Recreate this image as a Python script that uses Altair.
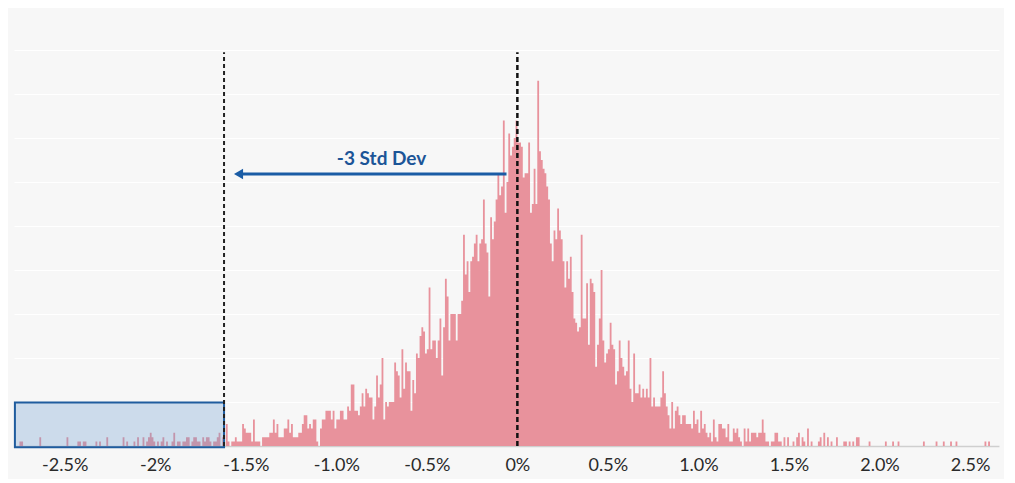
import numpy as np
import pandas as pd
import altair as alt

# Histogram of daily returns (%), bins of 0.01% starting at -2.78%
BIN_START = -2.78
BIN_WIDTH = 0.01

counts_a = [0, 0, 0, 1, 1, 0, 0, 0, 0, 0, 0, 0, 0, 0, 2, 0, 0, 0, 0, 0, 0, 0, 0, 0, 0,
            0, 0, 0, 0, 2, 0, 0, 0, 0, 0, 1, 1, 0, 1, 1, 0, 0, 0, 0, 0, 1, 0, 1, 0, 0]
counts_b = [0, 2, 0, 0, 0, 0, 0, 0, 0, 0, 2, 0, 1, 0, 0, 0, 1, 0, 2, 0, 0, 2, 0, 1, 2,
            3, 2, 1, 0, 1, 0, 1, 2, 0, 1, 0, 0, 1, 3, 0, 1, 1, 0, 1, 1, 2, 2, 0, 1, 2]
counts_c = [2, 1, 1, 0, 2, 1, 2, 2, 1, 0, 1, 1, 2, 3, 0, 2, 0, 5, 1, 0, 1, 1, 2, 1, 1,
            1, 5, 4, 3, 3, 3, 1, 6, 1, 1, 1, 0, 2, 2, 2, 2, 3, 3, 6, 3, 5, 2, 2, 2, 4]
counts_d = [4, 6, 3, 5, 2, 2, 2, 3, 3, 5, 7, 7, 4, 5, 4, 6, 6, 1, 0, 4, 6, 6, 8, 8, 8,
            6, 8, 4, 6, 6, 8, 8, 6, 6, 9, 8, 14, 14, 8, 8, 7, 9, 12, 9, 13, 12, 11, 11, 6, 9]
counts_e = [16, 11, 14, 20, 6, 10, 9, 10, 10, 10, 19, 17, 16, 11, 22, 13, 19, 17, 17, 8,
            15, 12, 21, 20, 25, 27, 26, 21, 22, 36, 22, 24, 24, 20, 24, 29, 16, 27, 38, 34,
            24, 30, 30, 30, 24, 30, 30, 33, 48, 39]
counts_f = [42, 35, 42, 43, 46, 48, 42, 46, 47, 56, 46, 44, 34, 52, 47, 51, 56, 62, 57, 59,
            74, 53, 60, 71, 66, 68, 70, 74, 69, 69, 68, 61, 62, 62, 69, 53, 55, 63, 55, 83,
            67, 65, 63, 62, 59, 56, 46, 42, 49, 47]
counts_g = [54, 49, 47, 42, 36, 42, 38, 43, 35, 29, 28, 26, 27, 48, 29, 29, 37, 23, 38, 37,
            35, 18, 23, 29, 40, 24, 19, 21, 22, 28, 23, 22, 14, 17, 24, 20, 18, 16, 17, 24,
            13, 10, 21, 12, 12, 14, 11, 13, 11, 13]
counts_h = [11, 20, 9, 11, 9, 9, 9, 11, 17, 12, 9, 7, 4, 10, 4, 8, 9, 7, 5, 7, 7, 5, 5, 5, 4,
            8, 5, 6, 3, 8, 4, 5, 3, 2, 3, 1, 6, 2, 1, 5, 5, 4, 4, 2, 5, 1, 1, 4, 3, 4]
counts_i = [2, 1, 0, 4, 1, 4, 1, 3, 3, 3, 2, 3, 3, 6, 3, 1, 1, 0, 1, 1, 3, 3, 1, 1, 0,
            2, 0, 2, 0, 0, 1, 0, 2, 3, 0, 2, 1, 0, 4, 0, 1, 0, 0, 0, 1, 2, 0, 3, 0, 2]
counts_j = [0, 1, 0, 0, 2, 0, 0, 0, 1, 1, 0, 1, 0, 1, 0, 2, 2, 0, 0, 0, 0, 0, 1, 0, 0,
            0, 0, 0, 0, 0, 0, 1, 0, 0, 0, 1, 0, 0, 1, 0, 0, 0, 0, 0, 0, 0, 0, 0, 0, 0]
counts_k = [0, 0, 1, 0, 0, 0, 0, 0, 0, 1, 0, 0, 0, 1, 0, 0, 0, 1, 0, 0, 1, 0,
            0, 0, 0, 0, 0, 0, 0, 0, 0, 0, 0, 0, 0, 0, 1, 0, 1, 0, 0, 0, 0, 0]

counts = (counts_a + counts_b + counts_c + counts_d + counts_e + counts_f
          + counts_g + counts_h + counts_i + counts_j + counts_k)

# axis ticks and their labels (as printed on the original)
tick_values = [-2.5, -2.0, -1.5, -1.0, -0.5, 0.0, 0.5, 1.0, 1.5, 2.0, 2.5]
tick_labels = ["-2.5%", "-2%", "-1.5%", "-1.0%", "-0.5%", "0%",
               "0.5%", "1.0%", "1.5%", "2.0%", "2.5%"]

# annotations
mean_x = 0.0
minus3sd_x = -1.62
tail_box_x = [-2.775, -1.62]
tail_box_y = [-0.3, 9.9]
arrow_x = [-1.54, -0.06]
arrow_y = 61.8
label_text = "-3 Std Dev"
label_x = -0.75
label_y = 65.2

# step outline of the histogram: each bin start carries its count,
# plus a closing point at the right edge of the last bin
edges = BIN_START + BIN_WIDTH * np.arange(len(counts) + 1)
hist = pd.DataFrame({
    "lo": np.round(edges, 4),
    "count": counts + [0],
})

label_expr = "{}[indexof({}, datum.value)]".format(
    "[" + ",".join("'%s'" % t for t in tick_labels) + "]",
    "[" + ",".join(repr(v) for v in tick_values) + "]",
)

x_scale = alt.Scale(domain=[BIN_START, 2.66], nice=False, zero=False)
y_scale = alt.Scale(domain=[0, 90], nice=False)

bars = alt.Chart(hist).mark_area(color="#e8929c", interpolate="step-after", opacity=1).encode(
    x=alt.X("lo:Q", scale=x_scale, title=None,
            axis=alt.Axis(values=tick_values, labelExpr=label_expr, grid=False, ticks=False,
                          domainColor="#cfcfcf", domainWidth=1.5, labelFontSize=18,
                          labelColor="#2a2a2a", labelFont="Lato", labelPadding=10)),
    y=alt.Y("count:Q", scale=y_scale, title=None,
            axis=alt.Axis(values=list(range(0, 100, 10)), labels=False, ticks=False,
                          domain=False, gridColor="#ffffff", gridWidth=1.2)),
)

box = alt.Chart(pd.DataFrame({"x": [tail_box_x[0]], "x2": [tail_box_x[1]],
                              "y": [tail_box_y[0]], "y2": [tail_box_y[1]]})).mark_rect(
    fill="#6b9bd1", fillOpacity=0.3, stroke="#1f5c9e", strokeWidth=2
).encode(x="x:Q", x2="x2:Q", y="y:Q", y2="y2:Q")

sd_line = alt.Chart(pd.DataFrame({"x": [minus3sd_x]})).mark_rule(
    color="#222222", strokeDash=[4, 3], strokeWidth=2
).encode(x="x:Q", y=alt.datum(0), y2=alt.datum(89.5))

mean_line = alt.Chart(pd.DataFrame({"x": [mean_x]})).mark_rule(
    color="#111111", strokeDash=[5, 3], strokeWidth=2.5
).encode(x="x:Q", y=alt.datum(0), y2=alt.datum(89.5))

arrow_df = pd.DataFrame({"x": [arrow_x[0]], "x2": [arrow_x[1]], "y": [arrow_y]})
arrow_line = alt.Chart(arrow_df).mark_rule(color="#1a5ca5", strokeWidth=3).encode(
    x="x:Q", x2="x2:Q", y="y:Q")
arrow_head = alt.Chart(arrow_df).mark_point(
    shape="triangle-left", filled=True, color="#1a5ca5", size=110, opacity=1
).encode(x="x:Q", y="y:Q")

label = alt.Chart(pd.DataFrame({"x": [label_x], "y": [label_y], "t": [label_text]})).mark_text(
    font="Lato", fontSize=19, fontWeight="bold", color="#1c5597", baseline="middle"
).encode(x="x:Q", y="y:Q", text="t:N")

chart = alt.layer(bars, box, sd_line, mean_line, arrow_line, arrow_head, label).properties(
    width=985, height=396,
    background="#f7f7f7",
    padding={"left": 5, "top": 42, "right": 5, "bottom": 5},
).configure_view(stroke=None)

chart.save("out.html", embed_options={"renderer": "svg", "actions": False})
